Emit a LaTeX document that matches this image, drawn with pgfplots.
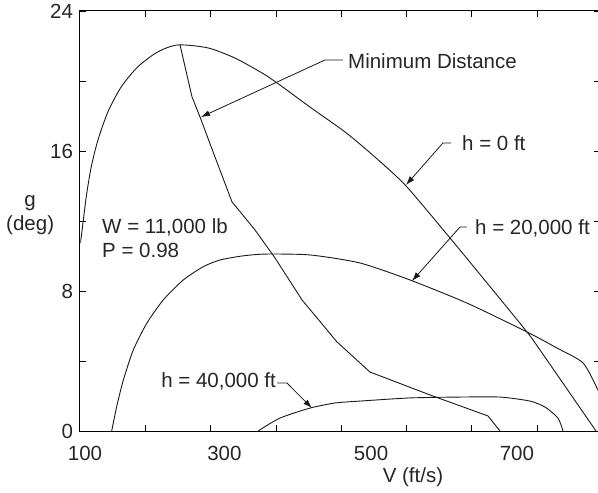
\documentclass[border=0pt]{standalone}
\usepackage{fontspec}
\setmainfont{Liberation Sans}
\usepackage{pgfplots}
\pgfplotsset{compat=1.18}
\usetikzlibrary{arrows.meta}
\begin{document}
\fontsize{20.5bp}{24bp}\selectfont
\begin{tikzpicture}
\useasboundingbox (-80bp,-62bp) rectangle (518bp,431bp);
\begin{axis}[
  at={(0,0)}, anchor=south west,
  scale only axis, width=520bp, height=420bp,
  xmin=100, xmax=820, ymin=0, ymax=24,
  clip mode=individual,
  axis line style={line width=1bp, black},
  xtick={191,281,372,462,552,642,733}, xticklabels={},
  extra x ticks={107,300,503,705},
  extra x tick labels={100,300,500,700},
  extra x tick style={major tick length=0pt},
  ytick={0,4,...,24}, yticklabels={0,,8,,16,,24},
  tick align=inside, major tick length=6bp,
  tick style={line width=0.8bp, black},
  ticklabel style={font=\fontsize{20.5bp}{24bp}\selectfont, text=black!85},
  xticklabel style={yshift=-8bp},
  /pgf/number format/assume math mode=true,
]
% h = 0 ft
\addplot[black!90, line width=0.9bp, smooth, tension=0.45] coordinates {
(101.0,10.91) (101.8,11.10) (108.7,13.39) (115.6,15.10) (124.9,16.63)
(138.8,18.25) (157.2,19.67) (180.3,20.82) (208.0,21.67) (235.7,22.06)
(277.2,21.89) (314.6,21.31) (352.0,20.46) (372.8,19.89) (418.5,18.51)
(469.7,17.00) (515.4,15.40) (552.8,13.94) (612.3,11.03)
(658.0,8.74) (718.9,5.66) (736.9,4.63) (814.5,0)
};
% h = 20,000 ft
\addplot[black!90, line width=0.9bp, smooth, tension=0.4] coordinates {
(143.9,0) (150.8,1.39) (160.0,2.91) (173.8,4.63) (192.4,6.15)
(215.3,7.49) (243.0,8.63) (270.7,9.39) (293.8,9.77) (324.3,10.0)
(356.2,10.11) (418.5,10.06) (487.7,9.60)
(556.9,8.63) (635.8,7.31) (718.9,5.66) (760.5,4.74) (796.5,3.89)
(817.2,2.34) (822,1.8)
};
% h = 40,000 ft
\addplot[black!90, line width=0.9bp, smooth, tension=0.4] coordinates {
(346.5,0) (376.9,0.74) (418.5,1.31) (453.1,1.60) (487.7,1.71)
(556.9,1.89) (626.2,1.94) (681.5,1.94) (723.1,1.71) (743.8,1.37)
(761.8,0.74) (768.8,0)
};
% Minimum distance
\addplot[black!90, line width=0.9bp] coordinates {
(238.5,22.06) (255.1,19.09) (266.2,17.94) (286.9,15.66) (310.5,13.09)
(342.3,11.49) (370.0,9.89) (407.4,7.49) (455.8,5.09) (501.5,3.37)
(584.6,2.06) (664.9,0.86) (681.5,0)
};
% annotations
\draw[line width=0.8bp, black!90, -{Latex[length=9bp,width=6bp]}]
  (axis cs:464.1,21.2) -- (axis cs:439.2,21.2) -- (axis cs:267.5,17.94);
\draw[line width=0.8bp, black!90, -{Latex[length=9bp,width=6bp]}]
  (axis cs:613.7,16.46) -- (axis cs:602.6,16.46) -- (axis cs:551.4,14.06);
\draw[line width=0.8bp, black!90, -{Latex[length=9bp,width=6bp]}]
  (axis cs:635.8,11.66) -- (axis cs:626.2,11.66) -- (axis cs:559.7,8.57);
\draw[line width=0.8bp, black!90, -{Latex[length=9bp,width=6bp]}]
  (axis cs:372.8,2.74) -- (axis cs:386.6,2.74) -- (axis cs:421.2,1.31);
\node[anchor=base west, inner sep=0pt, text=black!85] at (axis cs:471.1,20.69) {Minimum Distance};
\node[anchor=base west, inner sep=0pt, text=black!85] at (axis cs:628.9,16.0) {h = 0 ft};
\node[anchor=base west, inner sep=0pt, text=black!85] at (axis cs:646.9,11.2) {h = 20,000 ft};
\node[anchor=base east, inner sep=0pt, text=black!85] at (axis cs:371.5,2.46) {h = 40,000 ft};
\node[anchor=base west, inner sep=0pt, text=black!85] at (axis cs:130.5,11.31) {W = 11,000 lb};
\node[anchor=base west, inner sep=0pt, text=black!85] at (axis cs:130.5,9.89) {P = 0.98};
\node[anchor=center, text=black!85] at (axis cs:561,-2.63) {V (ft/s)};
\node[anchor=center, align=center, text=black!85, inner sep=0pt] at (axis cs:31,12.34) {g\\(deg)};
\end{axis}
\end{tikzpicture}
\end{document}
